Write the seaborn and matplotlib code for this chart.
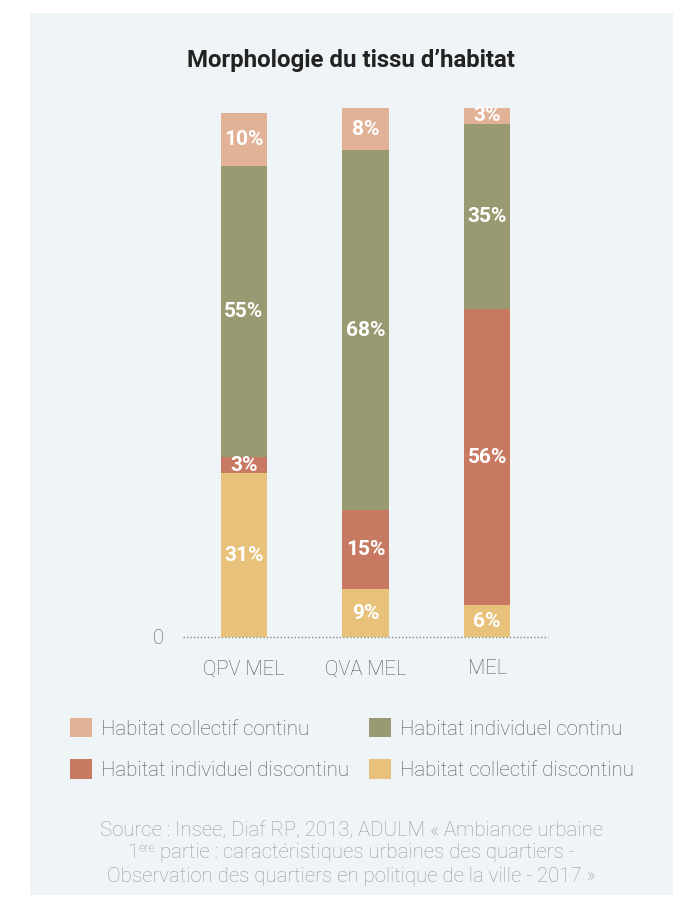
import numpy as np
import pandas as pd
import matplotlib
matplotlib.use("Agg")
import matplotlib.pyplot as plt
import seaborn as sns
from matplotlib.patches import Patch

# ---- data ----
categories = ["QPV MEL", "QVA MEL", "MEL"]
coll_disc = [31, 9, 6]      # Habitat collectif discontinu (bottom)
ind_disc = [3, 15, 56]      # Habitat individuel discontinu
ind_cont = [55, 68, 35]     # Habitat individuel continu
coll_cont = [10, 8, 3]      # Habitat collectif continu (top)

series_names = ["Habitat collectif discontinu", "Habitat individuel discontinu",
                "Habitat individuel continu", "Habitat collectif continu"]
series_vals = [coll_disc, ind_disc, ind_cont, coll_cont]
colors = ["#e8c27a", "#c87962", "#9a9a72", "#e2b296"]

BG = "#eff4f7"

sns.set_theme(style="white")
plt.rcParams["font.family"] = ["Roboto", "DejaVu Sans"]

fig = plt.figure(figsize=(6.9, 9.08), dpi=100, facecolor="white")
# panel background
fig.patches.append(plt.Rectangle((30 / 690, 1 - 895 / 908), (673 - 30) / 690, (895 - 13) / 908,
                                 transform=fig.transFigure, facecolor=BG, edgecolor="none", zorder=-10))

ax = fig.add_axes([183 / 690, 1 - 637 / 908, 365 / 690, 529 / 908])
ax.set_facecolor("none")
ax.set_zorder(2)

cum = np.cumsum(np.array(series_vals), axis=0)
# draw from top layer to bottom so lower layers overlap
for i in range(len(series_vals) - 1, -1, -1):
    df = pd.DataFrame({"cat": categories, "val": cum[i]})
    sns.barplot(data=df, x="cat", y="val", color=colors[i], saturation=1, width=0.38,
                ax=ax, zorder=2, edgecolor="none", linewidth=0)

# labels
for i in range(len(series_vals)):
    for j, cat in enumerate(categories):
        v = series_vals[i][j]
        bottom = cum[i][j] - v
        ax.text(j, bottom + v / 2, f"{v}%", ha="center", va="center", color="white",
                fontsize=15, fontweight="bold", zorder=5)

ax.set_xlim(-0.5, 2.5)
ax.set_ylim(0, 100)
for s in ax.spines.values():
    s.set_visible(False)
ax.axhline(0, color="#888888", linestyle=(0, (1, 1.5)), linewidth=1, zorder=1, clip_on=False)
ax.set_yticks([0])
ax.set_yticklabels(["0"])
ax.tick_params(axis="y", length=0, pad=14, labelsize=14.5, labelcolor="#5a5a5a")
ax.tick_params(axis="x", length=0, pad=16, labelsize=14.5, labelcolor="#555555")
for lab in ax.get_xticklabels() + ax.get_yticklabels():
    lab.set_fontweight("light")
ax.set_xlabel("")
ax.set_ylabel("")

fig.text(351 / 690, 1 - 60 / 908, "Morphologie du tissu d\u2019habitat", ha="center", va="center",
         fontsize=17.3, fontweight="bold", color="#222222")

# legend
order = [3, 1, 2, 0]
handles = [Patch(facecolor=colors[k], edgecolor="none", label=series_names[k]) for k in order]
leg = fig.legend(handles=handles, ncol=2, loc="upper left",
                 bbox_to_anchor=(70 / 690, 1 - 718 / 908), frameon=False,
                 fontsize=14.8, handlelength=1.07, handleheight=1.07, handletextpad=0.46,
                 columnspacing=0.93, labelspacing=1.0, borderpad=0, borderaxespad=0)
for t in leg.get_texts():
    t.set_color("#555555")
    t.set_fontweight("light")

# source
src_color = "#999999"
fs = 14.7
fig.text(351 / 690, 1 - 830 / 908, "Source : Insee, Diaf RP, 2013, ADULM \u00ab Ambiance urbaine",
         ha="center", va="center", fontsize=fs, color=src_color, fontweight="light")
fig.text(351 / 690, 1 - 877 / 908, "Observation des quartiers en politique de la ville - 2017 \u00bb",
         ha="center", va="center", fontsize=fs, color=src_color, fontweight="light")
# line with superscript
renderer = fig.canvas.get_renderer()
t1 = fig.text(0, 1 - 853 / 908, "1", ha="left", va="center", fontsize=fs, color=src_color, fontweight="light")
t2 = fig.text(0, 1 - 848 / 908, "\u00e8re", ha="left", va="center", fontsize=9, color=src_color, fontweight="light")
t3 = fig.text(0, 1 - 853 / 908, " partie : caract\u00e9ristiques urbaines des quartiers -", ha="left", va="center",
              fontsize=fs, color=src_color, fontweight="light")
w = [t.get_window_extent(renderer).width for t in (t1, t2, t3)]
total = sum(w)
x0 = 351 - total / 2
t1.set_x(x0 / 690)
t2.set_x((x0 + w[0]) / 690)
t3.set_x((x0 + w[0] + w[1]) / 690)

fig.savefig("out.png", dpi=100, facecolor="white")
